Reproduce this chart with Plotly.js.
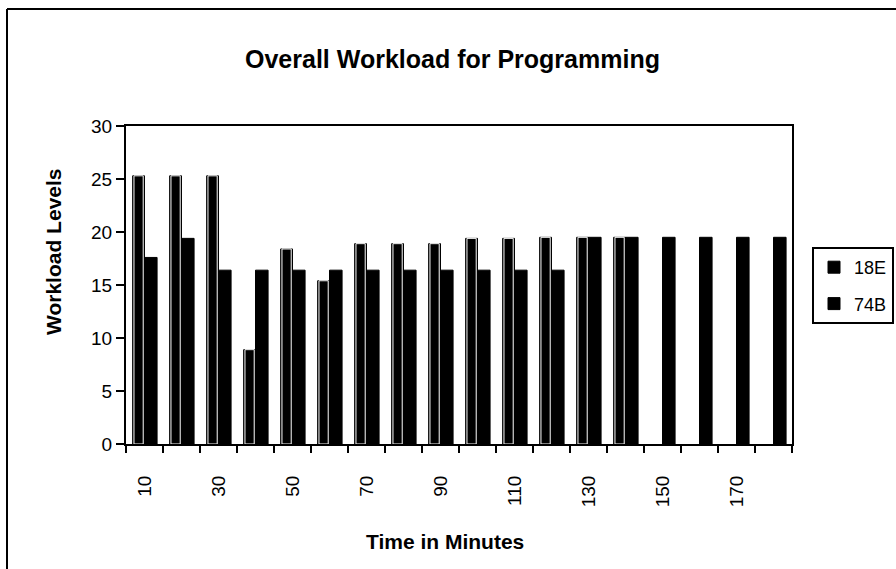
<!DOCTYPE html>
<html>
<head>
<meta charset="utf-8">
<script src="https://cdn.plot.ly/plotly-3.0.1.min.js"></script>
<style>html,body{margin:0;padding:0;background:#fff;}#chart{width:896px;height:569px;}</style>
</head>
<body>
<div id="chart"></div>
<script>
const minutes = [10,20,30,40,50,60,70,80,90,100,110,120,130,140,150,160,170,180];
const s18E = [25.3,25.3,25.3,8.9,18.4,15.4,18.9,18.9,18.9,19.4,19.4,19.5,19.5,19.5,null,null,null,null];
const s74B = [17.6,19.4,16.4,16.4,16.4,16.4,16.4,16.4,16.4,16.4,16.4,16.4,19.5,19.5,19.5,19.5,19.5,19.5];
const tickLabels = ['10','30','50','70','90','110','130','150','170'];
const tickPositions = [10,30,50,70,90,110,130,150,170];

const font = 'Arial, "Liberation Sans", Helvetica, sans-serif';

const traces = [
  {type:'bar', name:'18E', legendgroup:'a', x:minutes, y:s18E, offset:-3.2, width:3.2,
   marker:{color:'#000', line:{color:'#000', width:1}}},
  {type:'bar', name:'18E', legendgroup:'a', x:minutes, y:s18E, offset:-2.85, width:2.5, showlegend:false,
   marker:{color:'#000', line:{color:'#fff', width:1}}, hoverinfo:'skip'},
  {type:'bar', name:'74B', legendgroup:'b', x:minutes, y:s74B, offset:0, width:3.4,
   marker:{color:'#000', line:{color:'#000', width:1}}}
];

const toPX = px => (px-126)/666;
const toPY = py => (444-py)/318;

const layout = {
  width:896, height:569,
  margin:{l:126, r:104, t:126, b:125, autoexpand:false},
  paper_bgcolor:'#fff', plot_bgcolor:'#fff',
  barmode:'overlay',
  font:{family:font, color:'#000', size:15},
  title:{text:'<b>Overall Workload for Programming</b>', font:{size:25, family:font, color:'#000'},
         x:0.505, xanchor:'center', y:0.895, yanchor:'middle'},
  xaxis:{range:[5,185], tickmode:'array', tickvals:tickPositions, ticktext:tickLabels,
         tickangle:-90, ticks:'', ticklabelstandoff:22, showgrid:false, zeroline:false,
         showline:true, linecolor:'#000', linewidth:2, mirror:true,
         tickfont:{size:19, family:font},
         minor:{tickmode:'linear', tick0:5, dtick:10, ticks:'outside', ticklen:7, tickcolor:'#000', tickwidth:2, showgrid:false}},
  yaxis:{range:[0,30], dtick:5, ticks:'outside', ticklen:8, tickwidth:1.5, tickcolor:'#000',
         showgrid:false, zeroline:false, showline:true, linecolor:'#000', linewidth:2, mirror:true,
         tickfont:{size:19, family:font}},
  legend:{x:toPX(812), xanchor:'left', y:toPY(247), yanchor:'top', bordercolor:'#000', borderwidth:2,
          bgcolor:'#fff', font:{size:18, family:font}, traceorder:'grouped', itemwidth:30, tracegroupgap:10},
  annotations:[
    {xref:'paper', yref:'paper', x:toPX(445), y:toPY(541), text:'<b>Time in Minutes</b>', showarrow:false,
     font:{size:21, family:font}, xanchor:'center', yanchor:'middle'},
    {xref:'paper', yref:'paper', x:toPX(53), y:toPY(252), text:'<b>Workload Levels</b>', showarrow:false,
     font:{size:21, family:font}, textangle:-90, xanchor:'center', yanchor:'middle'}
  ],
  shapes:[
    {type:'line', xref:'paper', yref:'paper', x0:toPX(7), x1:toPX(7), y0:toPY(9), y1:toPY(569), line:{color:'#000', width:2}},
    {type:'line', xref:'paper', yref:'paper', x0:toPX(7), x1:toPX(896), y0:toPY(9), y1:toPY(9), line:{color:'#000', width:2}}
  ],
  showlegend:true
};

Plotly.newPlot('chart', traces, layout, {displayModeBar:false, staticPlot:true});
</script>
</body>
</html>
